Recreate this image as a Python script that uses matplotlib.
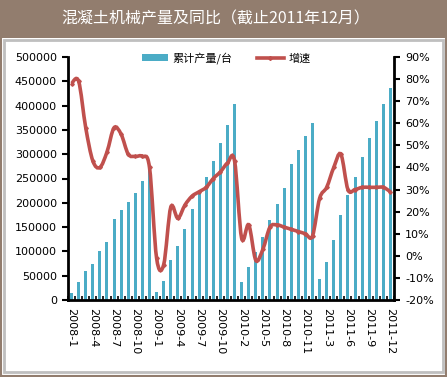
import numpy as np
import matplotlib
matplotlib.use('Agg')
import matplotlib.pyplot as plt
from matplotlib.path import Path
from matplotlib.patches import PathPatch, Rectangle
from matplotlib.lines import Line2D

plt.rcParams['font.family'] = ['DejaVu Sans', 'Noto Sans CJK SC']

# %% data
months = (['2008-%d' % m for m in range(1, 13)] + ['2009-%d' % m for m in range(1, 13)]
          + ['2010-%d' % m for m in range(2, 13)] + ['2011-%d' % m for m in range(2, 13)])

output = [15000, 37000, 60000, 74000, 101000, 119000, 166000, 185000, 202000, 220000, 245000, 267000,
          17000, 40000, 82000, 111000, 146000, 187000, 221000, 254000, 286000, 324000, 360000, 403000,
          38000, 67000, 99000, 130000, 165000, 198000, 230000, 280000, 309000, 338000, 364000,
          43000, 79000, 124000, 174000, 216000, 254000, 295000, 333000, 368000, 403000, 437000]

growth = [78, 79, 58, 43, 40, 47, 58, 55, 46, 45, 45, 40,
          -1, -4, 22, 17, 23, 27, 29, 31, 35, 38, 42, 43,
          8, 14, -2, 3, 13, 14, 13, 12, 11, 10, 9,
          26, 31, 40, 46, 30, 30, 31, 31, 31, 31, 29]

tick_idx = [0, 3, 6, 9, 12, 15, 18, 21, 24, 27, 30, 33, 36, 39, 42, 45]

bar_color = '#4BACC6'
line_color = '#C0504D'
brown = '#927D6E'


def smooth_path(xs, ys):
    # excel-like smoothed line through the points (cubic bezier)
    pts = np.column_stack([xs, ys]).astype(float)
    verts = [pts[0]]
    codes = [Path.MOVETO]
    n = len(pts)
    for i in range(n - 1):
        p0 = pts[i - 1] if i > 0 else pts[i]
        p1 = pts[i]
        p2 = pts[i + 1]
        p3 = pts[i + 2] if i + 2 < n else pts[i + 1]
        c1 = p1 + (p2 - p0) / 6
        c2 = p2 - (p3 - p1) / 6
        verts += [c1, c2, p2]
        codes += [Path.CURVE4] * 3
    return Path(verts, codes)


# %% plot
fig = plt.figure(figsize=(4.47, 3.77), dpi=100)
fig.patch.set_facecolor('white')

# title bar and frame
fig.patches.append(Rectangle((0, 1 - 38 / 377), 1, 38 / 377, transform=fig.transFigure,
                             facecolor=brown, edgecolor='none', zorder=0))
fig.patches.append(Rectangle((0.002, 0.002), 0.996, 0.996, transform=fig.transFigure,
                             facecolor='none', edgecolor=brown, lw=1.5, zorder=0))
fig.patches.append(Rectangle((4 / 447, 5 / 377), 439 / 447, 332 / 377, transform=fig.transFigure,
                             facecolor='none', edgecolor='#BFBFBF', lw=2, zorder=0))
fig.text(216 / 447, 1 - 19 / 377, '混凝土机械产量及同比（截止2011年12月）', color='white',
         fontsize=11.5, ha='center', va='center', family=['Noto Sans CJK SC', 'DejaVu Sans'])

ax = fig.add_axes([68 / 447, 1 - 300 / 377, 326 / 447, 243 / 377])
x = np.arange(len(months))
ax.bar(x, output, width=0.42, color=bar_color, zorder=2)
ax.set_xlim(-0.5, len(months) - 0.5)
ax.set_ylim(0, 500000)
ax.set_yticks(np.arange(0, 500001, 50000))
ax.set_xticks(x[tick_idx])
ax.set_xticklabels([months[i] for i in tick_idx], rotation=-90, fontsize=8)
ax.set_xticks(np.arange(-0.5, len(months), 1), minor=True)
ax.tick_params(axis='x', which='major', length=0, pad=6)
ax.tick_params(axis='x', which='minor', direction='in', length=3, width=1.2)
ax.tick_params(axis='y', direction='out', length=4, width=1.5, labelsize=8, pad=4)
for s in ['left', 'bottom']:
    ax.spines[s].set_linewidth(2)
ax.spines['top'].set_visible(False)
ax.spines['right'].set_visible(False)
ax.set_facecolor('none')

ax2 = ax.twinx()
ax2.set_ylim(-20, 90)
ax2.set_yticks(np.arange(-20, 91, 10))
ax2.set_yticklabels(['%d%%' % v for v in range(-20, 91, 10)])
ax2.tick_params(axis='y', direction='out', length=4, width=1.5, labelsize=8, pad=4)
ax2.spines['right'].set_linewidth(2)
for s in ['top', 'left', 'bottom']:
    ax2.spines[s].set_visible(False)
ax2.add_patch(PathPatch(smooth_path(x, growth), facecolor='none', edgecolor=line_color,
                        lw=2.6, zorder=3))
ax2.plot(x, growth, linestyle='none', marker='D', markersize=1.8, color=line_color, zorder=4)

handles = [Rectangle((0, 0), 1, 1, facecolor=bar_color),
           Line2D([], [], color=line_color, lw=2.6, marker='D', markersize=2)]
fig.legend(handles, ['累计产量/台', '增速'], loc='center', bbox_to_anchor=(226 / 447, 1 - 58 / 377),
           ncol=2, frameon=False, handlelength=2.4, handleheight=0.7,
           columnspacing=2.2, handletextpad=0.4, prop={'family': ['Noto Sans CJK SC', 'DejaVu Sans'], 'size': 8})

fig.savefig('out.png', dpi=100)
